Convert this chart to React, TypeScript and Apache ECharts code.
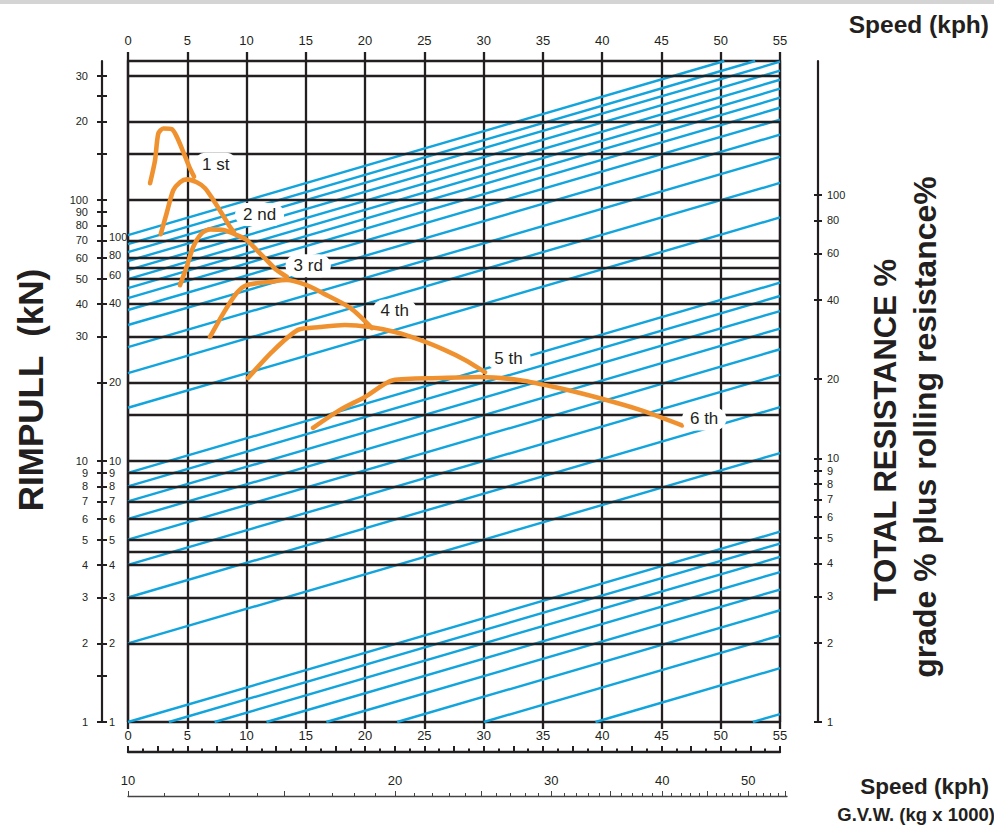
import React, { useEffect, useRef } from 'react';
import * as echarts from 'echarts';

// ---------- data ----------
const speedMin = 0;
const speedMax = 55;
const rimpullTop = 341; // kN at top border of the grid
const gridLevels = [2, 3, 4, 4.5, 5, 6, 7, 8, 9, 10, 15, 20, 30, 40, 50, 55, 60, 70, 100, 150, 200, 300];

// resistance lines: rimpull value where each line starts on the speed=0 edge
const resistanceBottomStarts = [0.2, 0.3, 0.4, 0.5, 0.6, 0.7, 0.8, 0.9];
const resistanceLeftStarts = [1, 2, 3, 4, 5, 6, 7, 8, 9, 16, 21.7, 27.3, 33.2, 37.9, 42.1, 46, 49.8, 53.9, 58.4, 63.2, 67.8, 73.4];
const resistanceSlope = 0.01326; // decades of rimpull per kph

const gear1 = [[1.86, 116], [2.28, 142], [2.56, 180], [2.98, 188], [3.69, 187], [4.11, 175], [4.66, 153], [5.17, 134], [5.57, 123]];
const gear2 = [[2.76, 74], [3.26, 89], [3.82, 109], [4.39, 117], [4.95, 120], [5.8, 117], [6.5, 111], [7.2, 100], [7.9, 89], [8.6, 79], [8.94, 75.4]];
const gear3 = [[4.39, 47.2], [4.95, 55.5], [5.51, 66.2], [6.22, 74.6], [6.92, 77.2], [8.04, 76.7], [9.17, 73.4], [10.01, 70.3], [10.86, 64.3], [11.7, 58.9], [12.54, 53.9], [13.39, 50.8]];
const gear4 = [[6.92, 29.9], [8.04, 36.8], [9.17, 44], [10.01, 47.2], [11.98, 48.6], [13.39, 49.4], [15.07, 47.2], [16.47, 43.9], [18.75, 38.6], [20.58, 32.3]];
const gear5 = [[10.12, 20.8], [12.15, 26.2], [14.34, 31.8], [16.2, 32.6], [18.3, 33.2], [20.41, 32.6], [22.52, 31.2], [24.63, 29.1], [26.74, 26.6], [28.43, 24.4], [30.11, 21.9]];
const gear6 = [[15.61, 13.4], [17.88, 15.7], [19.99, 17.6], [22.35, 20.4], [26.32, 20.8], [29.69, 21.0], [33.07, 20.4], [36.44, 19.0], [39.81, 17.4], [43.19, 15.7], [46.73, 13.7]];

const gearLabels = ['1 st', '2 nd', '3 rd', '4 th', '5 th', '6 th'];
const gearLabelSpeed = [7.4, 11.1, 15.2, 22.5, 32.1, 48.6];
const gearLabelRimpull = [137, 88, 56, 37.6, 24.8, 14.5];

const outerTickValues = [1, 1.5, 2, 3, 4, 5, 6, 7, 8, 9, 10, 20, 30, 40, 50, 60, 70, 80, 90, 100, 150, 200, 250, 300];
const outerLabelValues = [1, 2, 3, 4, 5, 6, 7, 8, 9, 10, 30, 40, 50, 60, 70, 80, 90, 100, 200, 300];
const outerLabelTexts = ['1', '2', '3', '4', '5', '6', '7', '8', '9', '10', '30', '40', '50', '60', '70', '80', '90', '100', '20', '30'];
const innerLabelValues = [1, 2, 3, 4, 5, 6, 7, 8, 9, 10, 20, 40.3, 51.6, 61.5, 72.3];
const innerLabelTexts = ['1', '2', '3', '4', '5', '6', '7', '8', '9', '10', '20', '40', '60', '80', '100'];

const resistanceAxisValues = [1, 2, 3, 4, 5, 6, 7, 8, 9, 10, 20, 40, 60, 80, 100];
const resistanceAxisMin = 0; // log10 at grid bottom
const resistanceAxisMax = 2.508; // log10 at grid top

const gvwMin = 10;
const gvwMax = 55.3;
const gvwTicks = [11, 12, 13, 14, 16, 17, 18, 19, 21, 22, 23, 24, 26, 27, 28, 29, 31, 32, 33, 34, 36, 37, 38, 39, 41, 42, 43, 44, 46, 47, 48, 49, 51, 52, 53, 54];
const gvwMajorTicks = [10, 15, 20, 25, 30, 35, 40, 45, 50, 55];
const gvwLabels = [10, 20, 30, 40, 50];

// ---------- helpers ----------
const LOG = (v: number) => Math.log10(v);
const ink = '#231f20';
const blue = '#12a4dc';
const orange = '#f0912f';
const font = "'Liberation Sans', Arial, Helvetica, sans-serif";

const yMax = LOG(rimpullTop);

const nearestText = (vals: number[], texts: string[]) => (v: number) => {
  let best = 0;
  let d = Infinity;
  vals.forEach((x, i) => {
    const dd = Math.abs(LOG(x) - v);
    if (dd < d) { d = dd; best = i; }
  });
  return texts[best];
};

const hLines = gridLevels.map((v) => ({ coords: [[speedMin, LOG(v)], [speedMax, LOG(v)]] }));

const blueLines = [...resistanceBottomStarts, ...resistanceLeftStarts].map((r0) => {
  const a = LOG(r0);
  const x0 = a < 0 ? -a / resistanceSlope : speedMin;
  const x1 = Math.min(speedMax, (yMax - a) / resistanceSlope);
  return { coords: [[x0, a + resistanceSlope * x0], [x1, a + resistanceSlope * x1]] };
});

const gears = [gear1, gear2, gear3, gear4, gear5, gear6];

const lineStyleInk = (w: number) => ({ color: ink, width: w });

const option: any = {
  animation: false,
  backgroundColor: '#ffffff',
  textStyle: { fontFamily: font },
  grid: [
    { left: 128, top: 61, width: 652, height: 661 },
    { left: 128, top: 745, width: 652, height: 7 },
    { left: 128, top: 789, width: 659, height: 7 },
  ],
  xAxis: [
    {
      gridIndex: 0, type: 'value', position: 'bottom', min: speedMin, max: speedMax, interval: 5,
      axisLine: { show: true, onZero: false, lineStyle: lineStyleInk(2.3) },
      axisTick: { show: true, length: 7, lineStyle: lineStyleInk(2.3) },
      axisLabel: { color: ink, fontSize: 13, fontFamily: font, margin: 7 },
      splitLine: { show: true, lineStyle: lineStyleInk(2.3) },
    },
    {
      gridIndex: 0, type: 'value', position: 'top', min: speedMin, max: speedMax, interval: 5,
      axisLine: { show: true, onZero: false, lineStyle: lineStyleInk(2.3) },
      axisTick: { show: true, length: 9, lineStyle: lineStyleInk(2.3) },
      axisLabel: { color: ink, fontSize: 13, fontFamily: font, margin: 14 },
      splitLine: { show: false },
    },
    {
      gridIndex: 1, type: 'value', position: 'bottom', min: speedMin, max: speedMax, interval: 2.5,
      axisLine: { show: true, onZero: false, lineStyle: lineStyleInk(2.4) },
      axisTick: { show: true, inside: true, length: 6, lineStyle: lineStyleInk(2) },
      minorTick: { show: true, splitNumber: 2, length: 3.5, lineStyle: lineStyleInk(2) },
      axisLabel: { show: false },
      splitLine: { show: false },
    },
    {
      gridIndex: 2, type: 'value', position: 'bottom', min: LOG(gvwMin), max: LOG(gvwMax),
      axisLine: { show: true, onZero: false, lineStyle: { color: '#444', width: 1.3 } },
      axisTick: { show: true, inside: true, length: 3, customValues: gvwTicks.map(LOG), lineStyle: { color: '#444', width: 1 } },
      axisLabel: { show: false },
      splitLine: { show: false },
    },
    {
      gridIndex: 2, type: 'value', position: 'bottom', min: LOG(gvwMin), max: LOG(gvwMax),
      axisLine: { show: false, onZero: false },
      axisTick: { show: true, inside: true, length: 5, customValues: gvwMajorTicks.map(LOG), lineStyle: { color: '#444', width: 1 } },
      axisLabel: {
        show: true, inside: true, margin: 9, color: ink, fontSize: 13, fontFamily: font,
        customValues: gvwLabels.map(LOG),
        formatter: nearestText(gvwLabels, gvwLabels.map(String)),
      },
      splitLine: { show: false },
    },
  ],
  yAxis: [
    {
      gridIndex: 0, type: 'value', min: 0, max: yMax, position: 'left',
      axisLine: { show: true, onZero: false, lineStyle: lineStyleInk(2.3) },
      axisTick: { show: false }, axisLabel: { show: false }, splitLine: { show: false },
    },
    {
      gridIndex: 0, type: 'value', min: 0, max: yMax, position: 'right',
      axisLine: { show: true, onZero: false, lineStyle: lineStyleInk(2.3) },
      axisTick: { show: false }, axisLabel: { show: false }, splitLine: { show: false },
    },
    {
      gridIndex: 0, type: 'value', min: 0, max: yMax, position: 'left', offset: 26,
      axisLine: { show: true, onZero: false, lineStyle: lineStyleInk(2.2) },
      axisTick: { show: true, length: 5, customValues: outerTickValues.map(LOG), lineStyle: lineStyleInk(2) },
      axisLabel: {
        show: true, margin: 14, color: ink, fontSize: 11, fontFamily: font,
        customValues: outerLabelValues.map(LOG),
        formatter: nearestText(outerLabelValues, outerLabelTexts),
      },
      splitLine: { show: false },
    },
    {
      gridIndex: 0, type: 'value', min: 0, max: yMax, position: 'left', offset: 26,
      axisLine: { show: false, onZero: false },
      axisTick: { show: true, inside: true, length: 5, customValues: outerTickValues.map(LOG), lineStyle: lineStyleInk(2) },
      axisLabel: {
        show: true, inside: true, margin: 7, color: ink, fontSize: 11, fontFamily: font,
        customValues: innerLabelValues.map(LOG),
        formatter: nearestText(innerLabelValues, innerLabelTexts),
      },
      splitLine: { show: false },
    },
    {
      gridIndex: 0, type: 'value', min: resistanceAxisMin, max: resistanceAxisMax, position: 'right', offset: 38,
      axisLine: { show: true, onZero: false, lineStyle: lineStyleInk(2.2) },
      axisTick: { show: true, length: 4, customValues: resistanceAxisValues.map(LOG), lineStyle: lineStyleInk(2) },
      axisLabel: {
        show: true, margin: 9, color: ink, fontSize: 11, fontFamily: font,
        customValues: resistanceAxisValues.map(LOG),
        formatter: nearestText(resistanceAxisValues, resistanceAxisValues.map(String)),
      },
      splitLine: { show: false },
    },
    {
      gridIndex: 0, type: 'value', min: resistanceAxisMin, max: resistanceAxisMax, position: 'right', offset: 38,
      axisLine: { show: false, onZero: false },
      axisTick: { show: true, inside: true, length: 4, customValues: resistanceAxisValues.map(LOG), lineStyle: lineStyleInk(2) },
      axisLabel: { show: false }, splitLine: { show: false },
    },
    { gridIndex: 1, type: 'value', min: 0, max: 1, show: false },
    { gridIndex: 2, type: 'value', min: 0, max: 1, show: false },
  ],
  series: [
    {
      type: 'lines', coordinateSystem: 'cartesian2d', xAxisIndex: 0, yAxisIndex: 0,
      data: blueLines, silent: true, z: 2,
      lineStyle: { color: blue, width: 2.4, opacity: 1, curveness: 0 },
    },
    {
      type: 'lines', coordinateSystem: 'cartesian2d', xAxisIndex: 0, yAxisIndex: 0,
      data: hLines, silent: true, z: 3,
      lineStyle: { color: ink, width: 2.3, opacity: 1, curveness: 0 },
    },
    ...gears.map((g) => ({
      type: 'line', xAxisIndex: 0, yAxisIndex: 0,
      data: g.map(([s, r]) => [s, LOG(r)]),
      showSymbol: false, symbol: 'none', smooth: 0.25, silent: true, z: 5,
      lineStyle: { color: orange, width: 4.6, cap: 'round', join: 'round' },
    })),
    {
      type: 'scatter', xAxisIndex: 0, yAxisIndex: 0, silent: true, z: 8,
      symbolSize: 1,
      itemStyle: { color: 'rgba(0,0,0,0)', opacity: 1 },
      data: gearLabels.map((t, i) => ({ name: t, value: [gearLabelSpeed[i], LOG(gearLabelRimpull[i])] })),
      label: {
        show: true, position: 'inside', formatter: '{b}', color: ink, opacity: 1, fontSize: 17, fontFamily: font,
        backgroundColor: '#ffffff', padding: [3, 8], borderRadius: 12,
      },
    },
  ],
  graphic: [
    { type: 'rect', silent: true, shape: { x: 0, y: 0, width: 994, height: 4 }, style: { fill: '#d4d4d4' } },
    {
      type: 'text', x: 30, y: 390, rotation: Math.PI / 2, silent: true,
      style: { text: 'RIMPULL  (kN)', font: `bold 35px ${font}`, fill: ink, align: 'center', verticalAlign: 'middle', textAlign: 'center', textVerticalAlign: 'middle' },
    },
    {
      type: 'text', x: 885, y: 430, rotation: Math.PI / 2, silent: true,
      style: { text: 'TOTAL RESISTANCE %', font: `bold 31px ${font}`, fill: ink, align: 'center', verticalAlign: 'middle', textAlign: 'center', textVerticalAlign: 'middle' },
    },
    {
      type: 'text', x: 925, y: 427, rotation: Math.PI / 2, silent: true,
      style: { text: 'grade % plus rolling resistance%', font: `bold 32px ${font}`, fill: ink, align: 'center', verticalAlign: 'middle', textAlign: 'center', textVerticalAlign: 'middle' },
    },
    {
      type: 'text', x: 989, y: 24, silent: true,
      style: { text: 'Speed (kph)', font: `bold 24.5px ${font}`, fill: ink, align: 'right', verticalAlign: 'middle', textAlign: 'right', textVerticalAlign: 'middle' },
    },
    {
      type: 'text', x: 989, y: 786, silent: true,
      style: { text: 'Speed (kph)', font: `bold 22.5px ${font}`, fill: ink, align: 'right', verticalAlign: 'middle', textAlign: 'right', textVerticalAlign: 'middle' },
    },
    {
      type: 'text', x: 995, y: 814, silent: true,
      style: { text: 'G.V.W. (kg x 1000)', font: `bold 18.5px ${font}`, fill: ink, align: 'right', verticalAlign: 'middle', textAlign: 'right', textVerticalAlign: 'middle' },
    },
  ],
};

export default function App() {
  const ref = useRef<HTMLDivElement>(null);
  useEffect(() => {
    if (!ref.current) return;
    const chart = echarts.init(ref.current, null, { renderer: 'svg' });
    chart.setOption(option);
    return () => chart.dispose();
  }, []);
  return <div ref={ref} style={{ position: 'absolute', left: 0, top: 0, width: 994, height: 834, background: '#fff' }} />;
}
